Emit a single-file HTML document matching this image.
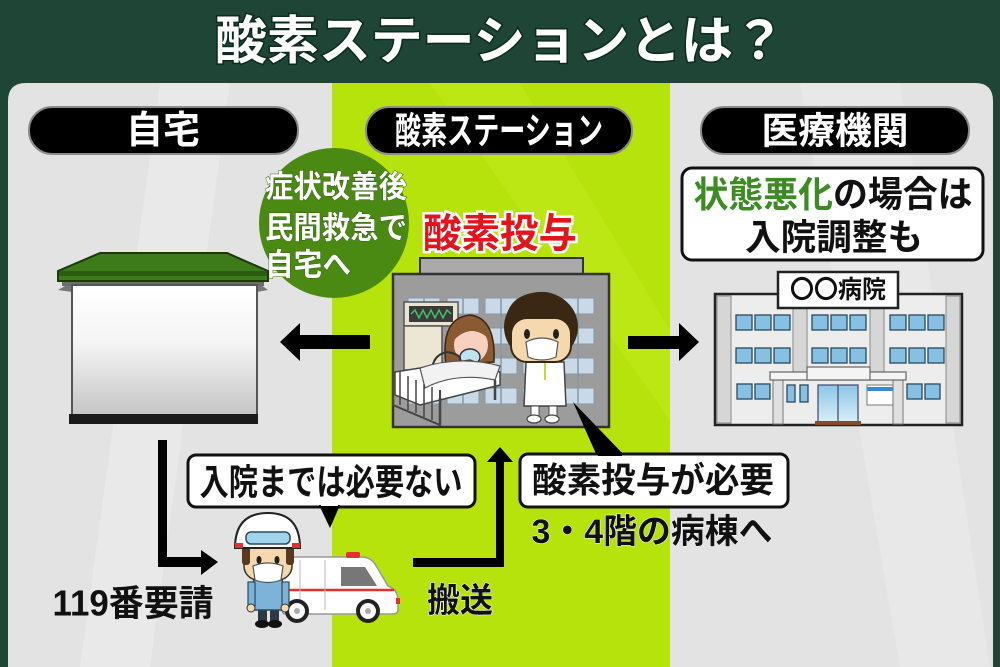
<!DOCTYPE html>
<html><head><meta charset="utf-8"><style>
html,body{margin:0;padding:0;background:#1f4537;width:1000px;height:667px;overflow:hidden;}
svg{display:block;position:absolute;left:0;top:0;}
text{font-family:"Liberation Sans","Noto Sans CJK JP",sans-serif;font-weight:700;}
</style></head><body>
<svg width="1000" height="667" viewBox="0 0 1000 667" xmlns="http://www.w3.org/2000/svg">
<defs>
<clipPath id="pc"><path d="M8,667 V101 Q8,83 26,83 H975 Q993,83 993,101 V667 Z"/></clipPath>
<linearGradient id="wall" x1="0" y1="0" x2="0" y2="1"><stop offset="0" stop-color="#ffffff"/><stop offset="0.45" stop-color="#f4f4f4"/><stop offset="1" stop-color="#c4c4c4"/></linearGradient>
<linearGradient id="door" x1="0" y1="0" x2="0" y2="1"><stop offset="0" stop-color="#8cc6e8"/><stop offset="1" stop-color="#d8eef8"/></linearGradient>
</defs>
<rect width="1000" height="667" fill="#1f4537"/>
<path d="M8,667 V101 Q8,83 26,83 H975 Q993,83 993,101 V667 Z" fill="#e3e3e3"/>
<g clip-path="url(#pc)">
<polygon points="160,83 230,83 150,667 80,667" fill="#e9e9e9"/>
<polygon points="800,83 900,83 990,667 900,667" fill="#e8e8e8"/>
<rect x="332" y="83" width="338" height="584" fill="#b6e30b"/>
<polygon points="430,83 520,83 670,330 670,420" fill="#bfe91c" opacity="0.6"/>
</g>
<!-- title -->
<text x="500" y="42" text-anchor="middle" dominant-baseline="central" font-size="52" fill="#fff" stroke="#0d2a1e" stroke-width="3" paint-order="stroke" textLength="570" lengthAdjust="spacingAndGlyphs">酸素ステーションとは？</text>
<!-- pills -->
<rect x="29" y="107" width="269" height="47" rx="23" fill="#000" stroke="#8a8a8a" stroke-width="2"/>
<text x="163" y="131" text-anchor="middle" dominant-baseline="central" font-size="38" fill="#fff" textLength="74" lengthAdjust="spacingAndGlyphs">自宅</text>
<rect x="366" y="107" width="266" height="47" rx="23" fill="#000" stroke="#8a8a8a" stroke-width="2"/>
<text x="499" y="131" text-anchor="middle" dominant-baseline="central" font-size="37" fill="#fff" textLength="208" lengthAdjust="spacingAndGlyphs">酸素ステーション</text>
<rect x="701" y="107" width="268" height="47" rx="23" fill="#000" stroke="#8a8a8a" stroke-width="2"/>
<text x="835" y="131" text-anchor="middle" dominant-baseline="central" font-size="37" fill="#fff" textLength="147" lengthAdjust="spacingAndGlyphs">医療機関</text>
<!-- green circle -->
<circle cx="334" cy="223" r="75" fill="#4a8a12"/>
<g fill="#fff" font-size="31" stroke="#2f5f0a" stroke-width="1" paint-order="stroke">
<text x="265" y="187" dominant-baseline="central" textLength="142" lengthAdjust="spacingAndGlyphs">症状改善後</text>
<text x="265" y="228" dominant-baseline="central" textLength="142" lengthAdjust="spacingAndGlyphs">民間救急で</text>
<text x="265" y="265" dominant-baseline="central" textLength="86" lengthAdjust="spacingAndGlyphs">自宅へ</text>
</g>
<!-- house -->
<polygon points="58,290 72,282 72,292" fill="#777"/>
<polygon points="268,290 257,282 257,292" fill="#777"/>
<rect x="62" y="279" width="202" height="7" fill="#6d6d6d"/>
<polygon points="100,253 227,253 268,271 268,281 58,281 58,271" fill="#3d7a1a" stroke="#1b3a0c" stroke-width="2"/>
<rect x="59" y="271" width="208" height="5" fill="#2c5c12"/>
<rect x="72" y="285" width="185" height="131" fill="url(#wall)" stroke="#555" stroke-width="2"/>
<rect x="69" y="414" width="189" height="10" fill="#1a1a1a"/>
<!-- left arrow -->
<polygon points="280,342 300,323 300,335 370,335 370,349 300,349 300,361" fill="#000"/>
<!-- right arrow -->
<polygon points="628,336 679,336 679,323 699,342 679,361 679,349 628,349" fill="#000"/>
<!-- red label -->
<text x="500" y="234" text-anchor="middle" dominant-baseline="central" font-size="40" fill="#e3141b" stroke="#fff" stroke-width="5" paint-order="stroke" textLength="154" lengthAdjust="spacingAndGlyphs">酸素投与</text>
<!-- middle building -->
<rect x="420" y="258" width="163" height="18" fill="#aaa" stroke="#333" stroke-width="2"/>
<rect x="393" y="274" width="216" height="153" fill="#9c9c9c" stroke="#333" stroke-width="2.5"/>
<g fill="#c9d9e8" stroke="#8797a6" stroke-width="1">
<rect x="408" y="298" width="32" height="16"/><rect x="447" y="298" width="32" height="16"/><rect x="485" y="298" width="32" height="16"/><rect x="523" y="298" width="32" height="16"/><rect x="562" y="298" width="32" height="16"/>
<rect x="408" y="328" width="32" height="16"/><rect x="447" y="328" width="32" height="16"/><rect x="485" y="328" width="32" height="16"/><rect x="523" y="328" width="32" height="16"/><rect x="562" y="328" width="32" height="16"/>
<rect x="408" y="358" width="32" height="16"/><rect x="447" y="358" width="32" height="16"/><rect x="485" y="358" width="32" height="16"/><rect x="523" y="358" width="32" height="16"/><rect x="562" y="358" width="32" height="16"/>
<rect x="408" y="388" width="32" height="16"/><rect x="447" y="388" width="32" height="16"/><rect x="485" y="388" width="32" height="16"/><rect x="523" y="388" width="32" height="16"/><rect x="562" y="388" width="32" height="16"/>
</g>
<g stroke="#8797a6" stroke-width="1.5">
<line x1="424" y1="298" x2="424" y2="404"/><line x1="463" y1="298" x2="463" y2="404"/><line x1="501" y1="298" x2="501" y2="404"/><line x1="539" y1="298" x2="539" y2="404"/><line x1="578" y1="298" x2="578" y2="404"/>
</g>
<!-- monitor & stand -->
<rect x="404" y="302" width="54" height="24" fill="#e9e5d2" stroke="#555" stroke-width="1.5"/>
<rect x="409" y="306" width="44" height="16" fill="#3a3a3a"/>
<polyline points="411,314 415,310 419,318 423,310 427,318 431,310 435,318 439,310 443,318 447,310 451,314" fill="none" stroke="#46c06a" stroke-width="1.5"/>
<rect x="404" y="326" width="38" height="44" fill="#ebe7d4" stroke="#555" stroke-width="1.5"/>
<!-- patient -->
<path d="M446,365 Q440,318 470,315 Q496,318 494,362 Z" fill="#8a5a32" stroke="#3c2612" stroke-width="1.5"/>
<ellipse cx="471" cy="345" rx="17" ry="18" fill="#f7d0c0"/>
<path d="M454,340 Q472,322 490,340 L490,332 Q472,314 454,332 Z" fill="#8a5a32"/>
<ellipse cx="470" cy="357" rx="10" ry="8" fill="#bfe4f0" stroke="#333" stroke-width="1.5"/>
<path d="M432,372 Q432,355 447,352 Q462,354 460,362" fill="none" stroke="#333" stroke-width="2"/>
<!-- bed -->
<path d="M395,372 L470,360 L500,372 L500,385 L420,405 L395,395 Z" fill="#fff" stroke="#444" stroke-width="1.5"/>
<path d="M420,368 Q460,355 500,366 L495,380 Q455,372 425,388 Z" fill="#f2f2f2" stroke="#555" stroke-width="1.2"/>
<path d="M393,360 L393,405 L440,425 L440,390" fill="none" stroke="#444" stroke-width="2"/>
<g stroke="#444" stroke-width="1.5"><line x1="400" y1="372" x2="400" y2="405"/><line x1="408" y1="376" x2="408" y2="410"/><line x1="416" y1="380" x2="416" y2="413"/><line x1="424" y1="384" x2="424" y2="417"/><line x1="432" y1="387" x2="432" y2="420"/></g>
<line x1="440" y1="398" x2="440" y2="426" stroke="#444" stroke-width="2.5"/>
<line x1="495" y1="380" x2="495" y2="400" stroke="#444" stroke-width="2.5"/>
<!-- doctor -->
<path d="M526,362 L564,362 L566,406 L524,406 Z" fill="#fff" stroke="#444" stroke-width="1.5"/>
<line x1="545" y1="362" x2="545" y2="380" stroke="#c8d830" stroke-width="2"/>
<rect x="531" y="406" width="8" height="10" fill="#fff" stroke="#444" stroke-width="1"/>
<rect x="549" y="406" width="8" height="10" fill="#fff" stroke="#444" stroke-width="1"/>
<ellipse cx="534" cy="419" rx="7" ry="4" fill="#fff" stroke="#444" stroke-width="1.2"/>
<ellipse cx="552" cy="419" rx="7" ry="4" fill="#fff" stroke="#444" stroke-width="1.2"/>
<ellipse cx="541" cy="327" rx="37" ry="35" fill="#3b2814"/>
<rect x="511" y="318" width="60" height="44" rx="16" fill="#f6d8ae" stroke="#3b2814" stroke-width="2"/>
<path d="M506,332 Q518,300 545,310 Q568,300 576,332 L576,318 Q562,290 540,292 Q510,294 506,318 Z" fill="#3b2814"/>
<ellipse cx="527" cy="334" rx="3" ry="5" fill="#222"/><ellipse cx="556" cy="334" rx="3" ry="5" fill="#222"/>
<path d="M526,342 Q542,334 558,342 L556,357 Q542,363 528,357 Z" fill="#fff" stroke="#555" stroke-width="1.2"/>
<!-- bubble tail from building -->
<polygon points="573,402 597,456 625,456" fill="#000"/>
<!-- right box -->
<rect x="682" y="168" width="301" height="92" rx="10" fill="#fff" stroke="#111" stroke-width="3"/>
<text x="833" y="194" text-anchor="middle" dominant-baseline="central" font-size="36" fill="#111" textLength="279" lengthAdjust="spacingAndGlyphs"><tspan fill="#3b8c22">状態悪化</tspan>の場合は</text>
<text x="834" y="237" text-anchor="middle" dominant-baseline="central" font-size="36" fill="#111" textLength="178" lengthAdjust="spacingAndGlyphs">入院調整も</text>
<!-- hospital -->
<rect x="715" y="294" width="247" height="131" fill="#ededed" stroke="#222" stroke-width="2.5"/>
<rect x="717" y="296" width="14" height="127" fill="#d6d6d6" stroke="#888" stroke-width="1"/>
<rect x="946" y="296" width="14" height="127" fill="#d6d6d6" stroke="#888" stroke-width="1"/>
<rect x="793" y="306" width="14" height="66" fill="#d6d6d6" stroke="#888" stroke-width="1"/>
<rect x="870" y="306" width="14" height="66" fill="#d6d6d6" stroke="#888" stroke-width="1"/>
<rect x="778" y="272" width="120" height="36" fill="#fff" stroke="#222" stroke-width="2.5"/>
<text x="838" y="290" text-anchor="middle" dominant-baseline="central" font-size="25" fill="#111" textLength="96" lengthAdjust="spacingAndGlyphs">〇〇病院</text>
<g fill="#86c0e2" stroke="#2b4a5e" stroke-width="1.3">
<rect x="736" y="315" width="16" height="15"/><rect x="755" y="315" width="16" height="15"/><rect x="774" y="315" width="16" height="15"/>
<rect x="812" y="315" width="16" height="15"/><rect x="831" y="315" width="16" height="15"/><rect x="850" y="315" width="16" height="15"/>
<rect x="890" y="315" width="16" height="15"/><rect x="909" y="315" width="16" height="15"/><rect x="928" y="315" width="16" height="15"/>
<rect x="736" y="348" width="16" height="15"/><rect x="755" y="348" width="16" height="15"/><rect x="774" y="348" width="16" height="15"/>
<rect x="812" y="348" width="16" height="15"/><rect x="831" y="348" width="16" height="15"/><rect x="850" y="348" width="16" height="15"/>
<rect x="890" y="348" width="16" height="15"/><rect x="909" y="348" width="16" height="15"/><rect x="928" y="348" width="16" height="15"/>
<rect x="737" y="384" width="15" height="15"/><rect x="755" y="384" width="15" height="15"/>
<rect x="787" y="385" width="8" height="17"/><rect x="800" y="385" width="8" height="17"/>
<rect x="907" y="384" width="15" height="15"/><rect x="925" y="384" width="15" height="15"/>
</g>
<rect x="773" y="378" width="10" height="46" fill="#e0e0e0" stroke="#777" stroke-width="1"/>
<rect x="893" y="378" width="10" height="46" fill="#e0e0e0" stroke="#777" stroke-width="1"/>
<rect x="770" y="372" width="136" height="8" fill="#f4f4f4" stroke="#666" stroke-width="1.2"/>
<rect x="807" y="367" width="63" height="13" fill="#f4f4f4" stroke="#666" stroke-width="1.2"/>
<rect x="818" y="385" width="40" height="37" fill="url(#door)" stroke="#446" stroke-width="1.2"/>
<line x1="838" y1="385" x2="838" y2="422" stroke="#446" stroke-width="1.2"/>
<rect x="815" y="421" width="46" height="4" fill="#8a4a22"/>
<rect x="867" y="385" width="26" height="20" fill="#fff" stroke="#777" stroke-width="1"/>
<rect x="867" y="387" width="26" height="4" fill="#3a8ad0"/>
<!-- connector from house -->
<polygon points="158,440 167,440 167,557 201,557 201,550 218,562 201,575 201,567 158,567" fill="#000"/>
<!-- bubble left -->
<rect x="188" y="455" width="287" height="52" rx="8" fill="#fff" stroke="#111" stroke-width="3"/>
<polygon points="319,505 340,505 330,528" fill="#000"/>
<rect x="321" y="503" width="17" height="3" fill="#fff"/>
<text x="331" y="482" text-anchor="middle" dominant-baseline="central" font-size="36" fill="#111" textLength="263" lengthAdjust="spacingAndGlyphs">入院までは必要ない</text>
<!-- ambulance -->
<path d="M282,562 Q282,557 290,557 L362,557 Q370,557 375,564 L388,586 Q398,590 398,600 L398,610 Q398,614 392,614 L285,614 Q282,614 282,608 Z" fill="#fff" stroke="#9a9a9a" stroke-width="1.5"/>
<rect x="346" y="552" width="14" height="6" rx="2" fill="#e53030"/>
<polygon points="341,567 365,567 377,586 341,586" fill="#777"/>
<line x1="285" y1="590" x2="394" y2="590" stroke="#e53030" stroke-width="2.5"/>
<line x1="325" y1="560" x2="325" y2="610" stroke="#bbb" stroke-width="1"/>
<line x1="300" y1="560" x2="300" y2="605" stroke="#bbb" stroke-width="1"/>
<rect x="396" y="598" width="4" height="6" fill="#e53030"/>
<circle cx="297" cy="611" r="10" fill="#fff" stroke="#222" stroke-width="4"/>
<circle cx="297" cy="611" r="3" fill="#aaa"/>
<circle cx="368" cy="611" r="10" fill="#fff" stroke="#222" stroke-width="4"/>
<circle cx="368" cy="611" r="3" fill="#aaa"/>
<!-- rescuer -->
<rect x="258" y="608" width="9" height="14" fill="#2c3a46"/><rect x="270" y="608" width="9" height="14" fill="#2c3a46"/>
<ellipse cx="262" cy="624" rx="7" ry="4" fill="#111"/><ellipse cx="275" cy="624" rx="7" ry="4" fill="#111"/>
<path d="M254,578 L282,578 L286,610 L250,610 Z" fill="#7db3d8" stroke="#2b4a5e" stroke-width="1.5"/>
<rect x="248" y="582" width="7" height="24" fill="#7db3d8" stroke="#2b4a5e" stroke-width="1.2"/>
<rect x="282" y="582" width="7" height="24" fill="#7db3d8" stroke="#2b4a5e" stroke-width="1.2"/>
<circle cx="251" cy="608" r="4" fill="#f6d8ae" stroke="#333" stroke-width="1"/>
<circle cx="285" cy="608" r="4" fill="#f6d8ae" stroke="#333" stroke-width="1"/>
<rect x="244" y="540" width="48" height="40" rx="14" fill="#f6d8ae" stroke="#333" stroke-width="1.5"/>
<rect x="242" y="545" width="8" height="20" rx="3" fill="#5a3a1c"/><rect x="286" y="545" width="8" height="20" rx="3" fill="#5a3a1c"/>
<ellipse cx="259" cy="560" rx="2.5" ry="4" fill="#222"/><ellipse cx="277" cy="560" rx="2.5" ry="4" fill="#222"/>
<path d="M253,566 Q268,560 283,566 L281,580 Q268,585 255,580 Z" fill="#fff" stroke="#555" stroke-width="1.2"/>
<path d="M235,548 Q235,513 268,513 Q300,513 300,548 Z" fill="#fff" stroke="#222" stroke-width="2"/>
<rect x="235" y="543" width="8" height="5" fill="#e53030"/><rect x="292" y="543" width="8" height="5" fill="#e53030"/>
<rect x="246" y="532" width="44" height="12" rx="5" fill="#9fd4ec" stroke="#2b4a5e" stroke-width="1.5"/>
<!-- up arrow -->
<polygon points="413,558 496,558 496,462 487,462 500,447 513,462 504,462 504,567 413,567" fill="#000"/>
<text x="460" y="601" text-anchor="middle" dominant-baseline="central" font-size="34" fill="#111" stroke="#fff" stroke-width="1" paint-order="stroke" textLength="66" lengthAdjust="spacingAndGlyphs">搬送</text>
<text x="133" y="603" text-anchor="middle" dominant-baseline="central" font-size="36" fill="#111" textLength="161" lengthAdjust="spacingAndGlyphs">119番要請</text>
<!-- right bubble -->
<rect x="520" y="454" width="268" height="53" rx="8" fill="#fff" stroke="#111" stroke-width="3"/>
<rect x="598" y="452" width="24" height="4" fill="#000"/>
<text x="653" y="481" text-anchor="middle" dominant-baseline="central" font-size="35" fill="#111" textLength="242" lengthAdjust="spacingAndGlyphs">酸素投与が必要</text>
<text x="652" y="532" text-anchor="middle" dominant-baseline="central" font-size="34" fill="#111" stroke="#fff" stroke-width="1" paint-order="stroke" textLength="241" lengthAdjust="spacingAndGlyphs">3・4階の病棟へ</text>
</svg>
</body></html>
